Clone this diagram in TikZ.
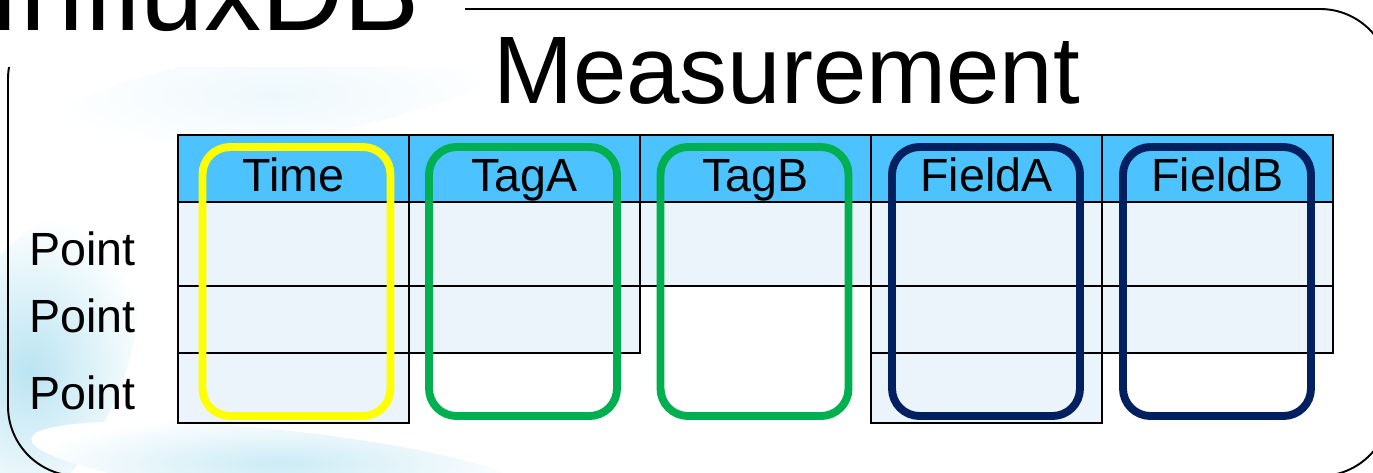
\documentclass[tikz,border=0pt]{standalone}
\usepackage{fontspec}
\setmainfont{Liberation Sans}
\usetikzlibrary{positioning}
\definecolor{hdr}{HTML}{4CC3FF}
\definecolor{wash}{HTML}{EBF4FB}
\definecolor{tagc}{HTML}{00B050}
\definecolor{fieldc}{HTML}{002060}
\definecolor{timec}{HTML}{FFFF00}
\definecolor{haze}{HTML}{A9DDEE}
\tikzset{
  big/.style={font=\fontsize{26.5}{26.5}\selectfont},
  cell/.style={draw=black, line width=0.8pt, fill=wash, minimum width=4.62cm, outer sep=0pt, inner sep=0pt},
  head/.style={cell, fill=hdr, minimum height=1.34cm, big, text height=26.7pt, text depth=0pt},
  rowa/.style={cell, minimum height=1.68cm},
  rowb/.style={cell, minimum height=1.34cm},
  rowc/.style={cell, minimum height=1.40cm},
  ring/.style={rounded corners=0.55cm, line width=4.5pt, minimum width=3.76cm, minimum height=5.38cm, outer sep=0pt},
  point/.style={big, anchor=base west, inner sep=0pt},
  haze/.style={inner color=haze, outer color=white},
}

\begin{document}
\begin{tikzpicture}
\useasboundingbox (0,0) rectangle (27.46,-9.44);
% faint backdrop
\shade[haze, inner color=haze!80] (0.6,-7.4) ellipse [x radius=1.8cm, y radius=3.4cm, rotate=-25];
\shade[haze, inner color=haze!60] (5.6,-9.3) ellipse [x radius=5cm, y radius=0.7cm, rotate=-6];
\shade[haze, inner color=haze!20] (5.5,-1.9) ellipse [x radius=4.5cm, y radius=0.9cm, rotate=8];
% database frame and title
\node[draw=black, line width=1.1pt, rounded corners=1.4cm, minimum width=27.64cm, minimum height=9.34cm] (db) at (13.98,-4.85) {};
\node[fill=white, anchor=base west, inner xsep=0.9cm, inner ysep=0.74cm, text depth=0pt, font=\fontsize{65}{65}\selectfont] (title) at (-1.14,-0.60) {InfluxDB};
\node[anchor=base, inner sep=0pt, font=\fontsize{54.6}{54.6}\selectfont] (meas) at (15.73,-2.06) {Measurement};
% header row
\node[head, anchor=north west] (hT) at (3.56,-2.70) {Time};
\node[head, right=0pt of hT] (hA) {TagA};
\node[head, right=0pt of hA] (hB) {TagB};
\node[head, right=0pt of hB] (hF) {FieldA};
\node[head, right=0pt of hF] (hG) {FieldB};
% points
\node[rowa, below=0pt of hT] (T1) {};
\node[rowb, below=0pt of T1] (T2) {};
\node[rowc, below=0pt of T2] (T3) {};
\node[rowa, below=0pt of hA] (A1) {};
\node[rowb, below=0pt of A1] (A2) {};
\node[rowa, below=0pt of hB] (B1) {};
\node[rowa, below=0pt of hF] (F1) {};
\node[rowb, below=0pt of F1] (F2) {};
\node[rowc, below=0pt of F2] (F3) {};
\node[rowa, below=0pt of hG] (G1) {};
\node[rowb, below=0pt of G1] (G2) {};
\node[point] (p1) at (0.58,-5.30) {Point};
\node[point] (p2) at (0.58,-6.64) {Point};
\node[point] (p3) at (0.58,-8.18) {Point};
% time, tags and fields
\node[ring, draw=timec] (rT) at (5.93,-5.63) {};
\node[ring, draw=tagc] (rA) at (10.46,-5.63) {};
\node[ring, draw=tagc] (rB) at (15.09,-5.63) {};
\node[ring, draw=fieldc] (rF) at (19.72,-5.63) {};
\node[ring, draw=fieldc] (rG) at (24.34,-5.63) {};
\end{tikzpicture}
\end{document}
